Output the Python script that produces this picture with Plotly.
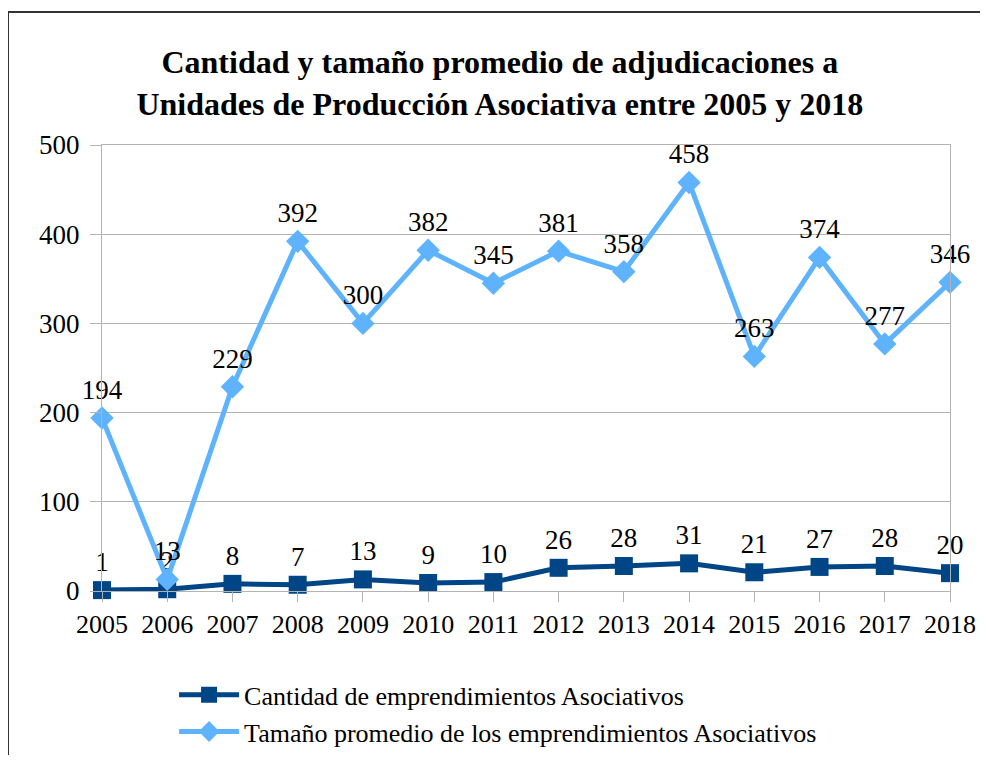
import plotly.graph_objects as go

years = [2005, 2006, 2007, 2008, 2009, 2010, 2011, 2012, 2013, 2014, 2015, 2016, 2017, 2018]
cantidad = [1, 2, 8, 7, 13, 9, 10, 26, 28, 31, 21, 27, 28, 20]
tamano = [194, 13, 229, 392, 300, 382, 345, 381, 358, 458, 263, 374, 277, 346]
name_cant = "Cantidad de emprendimientos Asociativos"
name_tam = "Tamaño promedio de los emprendimientos Asociativos"
title_text = "<b>Cantidad y tamaño promedio de adjudicaciones a<br>Unidades de Producción Asociativa entre 2005 y 2018</b>"

FONT = "Liberation Serif"
DARK = "#004586"
LIGHT = "#5fb3fd"

fig = go.Figure()
fig.add_trace(go.Scatter(
    x=years, y=cantidad, name=name_cant, mode="lines+markers+text",
    line=dict(color=DARK, width=5),
    marker=dict(symbol="square", size=18, color=DARK),
    text=[str(v) for v in cantidad], textposition="top center",
    textfont=dict(family=FONT, size=27, color="#000000"),
    cliponaxis=False,
))
fig.add_trace(go.Scatter(
    x=years, y=tamano, name=name_tam, mode="lines+markers+text",
    line=dict(color=LIGHT, width=5),
    marker=dict(symbol="diamond", size=18, color=LIGHT),
    text=[str(v) for v in tamano], textposition="top center",
    textfont=dict(family=FONT, size=27, color="#000000"),
    cliponaxis=False,
))

fig.update_layout(
    width=972, height=747,
    margin=dict(l=94, r=30, t=137, b=164, autoexpand=False),
    paper_bgcolor="white", plot_bgcolor="white",
    font=dict(family=FONT, size=26, color="#000000"),
    title=dict(text=title_text, x=0.506, xanchor="center", y=0.913, yanchor="middle",
               font=dict(family=FONT, size=32, color="#000000")),
    showlegend=True,
    legend=dict(orientation="v", x=0.085, xanchor="left", y=-0.18, yanchor="top",
                font=dict(family=FONT, size=26, color="#000000"),
                itemwidth=60, tracegroupgap=0),
    xaxis=dict(range=[2005, 2018], tickvals=years, ticktext=[str(y) for y in years],
               showgrid=False, showline=True, linecolor="#b3b3b3", linewidth=1, mirror=True,
               ticks="outside", ticklen=10, tickcolor="#b3b3b3",
               tickfont=dict(family=FONT, size=26, color="#000000"), zeroline=False),
    yaxis=dict(range=[0, 500], dtick=100, showgrid=True, gridcolor="#b3b3b3", gridwidth=1,
               showline=True, linecolor="#b3b3b3", linewidth=1, mirror=True,
               ticks="outside", ticklen=11, tickcolor="#b3b3b3", ticklabelstandoff=5,
               tickfont=dict(family=FONT, size=27, color="#000000"), zeroline=False),
)

bx = (8 - 102) / 848
by = (591 - 12) / 446
fig.add_shape(type="line", xref="paper", yref="paper",
              x0=bx, x1=bx, y0=(591 - 763) / 446, y1=by,
              line=dict(color="#333333", width=2), layer="below")
fig.add_shape(type="line", xref="paper", yref="paper",
              x0=bx, x1=(990 - 102) / 848, y0=by, y1=by,
              line=dict(color="#333333", width=2), layer="below")

fig.write_html("out.html")
